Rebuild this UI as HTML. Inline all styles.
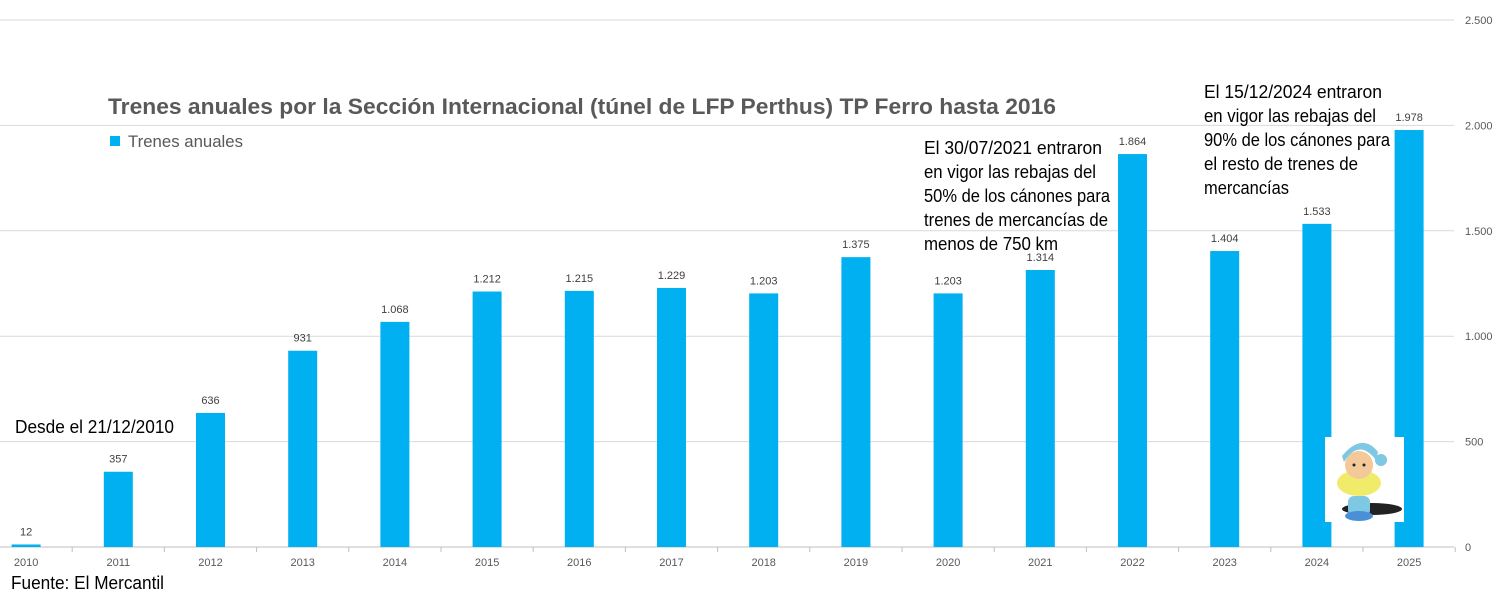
<!DOCTYPE html>
<html><head><meta charset="utf-8"><style>
html,body{margin:0;padding:0;background:#fff;}
svg{display:block;font-family:"Liberation Sans",sans-serif;}
</style></head><body>
<svg id="c" width="1501" height="600" xmlns="http://www.w3.org/2000/svg">
<rect width="1501" height="600" fill="#fff"/>
<g id="grid"></g>
<g id="bars"></g>
<text x="108" y="114" font-size="22" font-weight="bold" fill="#595959" textLength="948" lengthAdjust="spacingAndGlyphs">Trenes anuales por la Sección Internacional (túnel de LFP Perthus) TP Ferro hasta 2016</text>
<rect x="110" y="136" width="10" height="10" fill="#00B0F0"/>
<text x="128" y="147" font-size="17" fill="#595959" textLength="115" lengthAdjust="spacingAndGlyphs">Trenes anuales</text>
<text x="15" y="433" font-size="18" fill="#000" textLength="159" lengthAdjust="spacingAndGlyphs">Desde el 21/12/2010</text>
<text x="11" y="589" font-size="18" fill="#000" textLength="153" lengthAdjust="spacingAndGlyphs">Fuente: El Mercantil</text>
<g font-size="18" fill="#000">
<text x="924" y="154" textLength="178" lengthAdjust="spacingAndGlyphs">El 30/07/2021 entraron</text>
<text x="924" y="178" textLength="172" lengthAdjust="spacingAndGlyphs">en vigor las rebajas del</text>
<text x="924" y="202" textLength="186" lengthAdjust="spacingAndGlyphs">50% de los cánones para</text>
<text x="924" y="226" textLength="184" lengthAdjust="spacingAndGlyphs">trenes de mercancías de</text>
<text x="924" y="250" textLength="134" lengthAdjust="spacingAndGlyphs">menos de 750 km</text>
<text x="1204" y="98" textLength="178" lengthAdjust="spacingAndGlyphs">El 15/12/2024 entraron</text>
<text x="1204" y="122" textLength="172" lengthAdjust="spacingAndGlyphs">en vigor las rebajas del</text>
<text x="1204" y="146" textLength="186" lengthAdjust="spacingAndGlyphs">90% de los cánones para</text>
<text x="1204" y="170" textLength="154" lengthAdjust="spacingAndGlyphs">el resto de trenes de</text>
<text x="1204" y="194" textLength="85" lengthAdjust="spacingAndGlyphs">mercancías</text>
</g>
<g id="doll">
<rect x="1325" y="437" width="79" height="85" fill="#fff"/>
<ellipse cx="1372" cy="509" rx="30" ry="6" fill="#222"/>
<rect x="1348" y="496" width="22" height="20" rx="6" fill="#7ec8e3"/>
<ellipse cx="1359" cy="516" rx="14" ry="5" fill="#4a90d9"/>
<ellipse cx="1359" cy="483" rx="22" ry="13" fill="#f0ec6a"/>
<circle cx="1359" cy="465" r="14" fill="#f3c99a"/>
<path d="M1344 462 Q1359 438 1376 460 L1378 452 Q1362 432 1342 456 Z" fill="#7ec8e3"/>
<circle cx="1381" cy="460" r="6" fill="#7ec8e3"/>
<circle cx="1354" cy="465" r="1.5" fill="#222"/><circle cx="1364" cy="465" r="1.5" fill="#222"/>
</g>
</svg>
<script>
var ns="http://www.w3.org/2000/svg";
function el(p,t,a,txt){var e=document.createElementNS(ns,t);for(var k in a)e.setAttribute(k,a[k]);if(txt!=null)e.textContent=txt;document.getElementById(p).appendChild(e);return e;}
var y0=547,s=527/2500;
for(var g=0;g<=5;g++){var y=y0-g*500*s;
 el("grid","line",{x1:0,x2:1454,y1:y,y2:y,stroke:g==0?"#bfbfbf":"#d9d9d9","stroke-width":1});
 el("grid","text",{x:1465,y:y+4,"font-size":11,fill:"#595959"},g==0?"0":(g*500).toLocaleString("de-DE").replace(",","."));}
var labs=["0","500","1.000","1.500","2.000","2.500"];
var ts=document.querySelectorAll("#grid text");ts.forEach(function(t,i){t.textContent=labs[i];});
var v=[12,357,636,931,1068,1212,1215,1229,1203,1375,1203,1314,1864,1404,1533,1978];
var vl=["12","357","636","931","1.068","1.212","1.215","1.229","1.203","1.375","1.203","1.314","1.864","1.404","1.533","1.978"];
for(var i=0;i<16;i++){var c=26.1+92.2*i,h=v[i]*s;
 el("bars","rect",{x:c-14.5,y:y0-h,width:29,height:h,fill:"#00B0F0"});
 el("bars","text",{x:c,y:y0-h-9,"font-size":11,fill:"#404040","text-anchor":"middle"},vl[i]);
 el("bars","text",{x:c,y:566,"font-size":11,fill:"#595959","text-anchor":"middle"},String(2010+i));
 el("bars","line",{x1:c+46.1,x2:c+46.1,y1:y0,y2:y0+5,stroke:"#bfbfbf"});}
document.getElementById("c").appendChild(document.getElementById("doll"));
</script>
</body></html>
